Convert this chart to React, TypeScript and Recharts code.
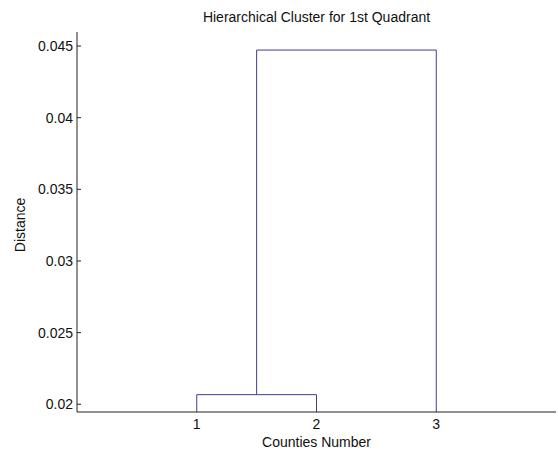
import React from "react";
import { LineChart, Line, XAxis, YAxis } from "recharts";

// Leaves (counties) and their positions on the x axis
const leafLabels = ["1", "2", "3"];
const leafPositions = [1, 2, 3];
// Merge heights (linkage distances)
const mergeHeights = [0.02067, 0.04472];
// Each link joins two nodes: leaves are indices 0..2, merged clusters 3..
const links: [number, number][] = [
  [0, 1],
  [3, 2],
];
const yTicks = [0.02, 0.025, 0.03, 0.035, 0.04, 0.045];
const yTickLabels = ["0.02", "0.025", "0.03", "0.035", "0.04", "0.045"];
const xTicks = [1, 2, 3];
const yDomain = [0.01946, 0.04598];
const xDomain = [0, 4];

// Build U-shaped dendrogram segments from the arrays above
const nodeX: number[] = [...leafPositions];
const nodeY: number[] = leafPositions.map(() => 0);
const segments = links.map(([a, b], i) => {
  const h = mergeHeights[i];
  const pts = [
    { x: nodeX[a], y: nodeY[a] },
    { x: nodeX[a], y: h },
    { x: nodeX[b], y: h },
    { x: nodeX[b], y: nodeY[b] },
  ];
  nodeX.push((nodeX[a] + nodeX[b]) / 2);
  nodeY.push(h);
  return pts;
});

const FONT = "'Liberation Sans', Arial, sans-serif";
const LINE = "#3c3c94";
const AXIS = "#222";
const FS = 14;

const YTick = (props: any) => {
  const { x, y, payload } = props;
  const i = yTicks.indexOf(payload.value);
  const label = i >= 0 ? yTickLabels[i] : String(payload.value);
  return (
    <g>
      <line x1={x + 4} x2={x + 8} y1={y} y2={y} stroke={AXIS} strokeWidth={1} />
      <text x={x} y={y} dy={5} textAnchor="end" fontSize={FS} fill="#111" fontFamily={FONT}>
        {label}
      </text>
    </g>
  );
};

const XTick = (props: any) => {
  const { x, y, payload } = props;
  const i = leafPositions.indexOf(payload.value);
  const label = i >= 0 ? leafLabels[i] : String(payload.value);
  return (
    <text x={x} y={y} dy={14} textAnchor="middle" fontSize={FS} fill="#111" fontFamily={FONT}>
      {label}
    </text>
  );
};

export default function App() {
  return (
    <div style={{ position: "absolute", left: 0, top: 0, width: 558, height: 453, background: "#fff" }}>
      <LineChart
        width={558}
        height={453}
        margin={{ top: 32, right: 2, bottom: 11, left: 0 }}
      >
        <text x={316.5} y={22} textAnchor="middle" fontSize={FS} fill="#111" fontFamily={FONT}>
          Hierarchical Cluster for 1st Quadrant
        </text>
        <text
          x={25}
          y={225}
          textAnchor="middle"
          fontSize={FS}
          fill="#111"
          fontFamily={FONT}
          transform="rotate(-90 25 225)"
        >
          Distance
        </text>
        <text x={316.5} y={447} textAnchor="middle" fontSize={FS} fill="#111" fontFamily={FONT}>
          Counties Number
        </text>
        <XAxis
          type="number"
          dataKey="x"
          domain={xDomain}
          ticks={xTicks}
          allowDataOverflow
          height={30}
          tickLine={false}
          tickSize={0}
          tickMargin={3}
          tick={<XTick />}
          axisLine={{ stroke: AXIS, strokeWidth: 1 }}
        />
        <YAxis
          type="number"
          dataKey="y"
          domain={yDomain}
          ticks={yTicks}
          allowDataOverflow
          width={77}
          tickLine={false}
          tickSize={0}
          tickMargin={4}
          tick={<YTick />}
          axisLine={{ stroke: AXIS, strokeWidth: 1 }}
        />
        {segments.map((pts, i) => (
          <Line
            key={i}
            data={pts}
            dataKey="y"
            type="linear"
            stroke={LINE}
            strokeWidth={1}
            dot={false}
            activeDot={false}
            isAnimationActive={false}
          />
        ))}
      </LineChart>
    </div>
  );
}
